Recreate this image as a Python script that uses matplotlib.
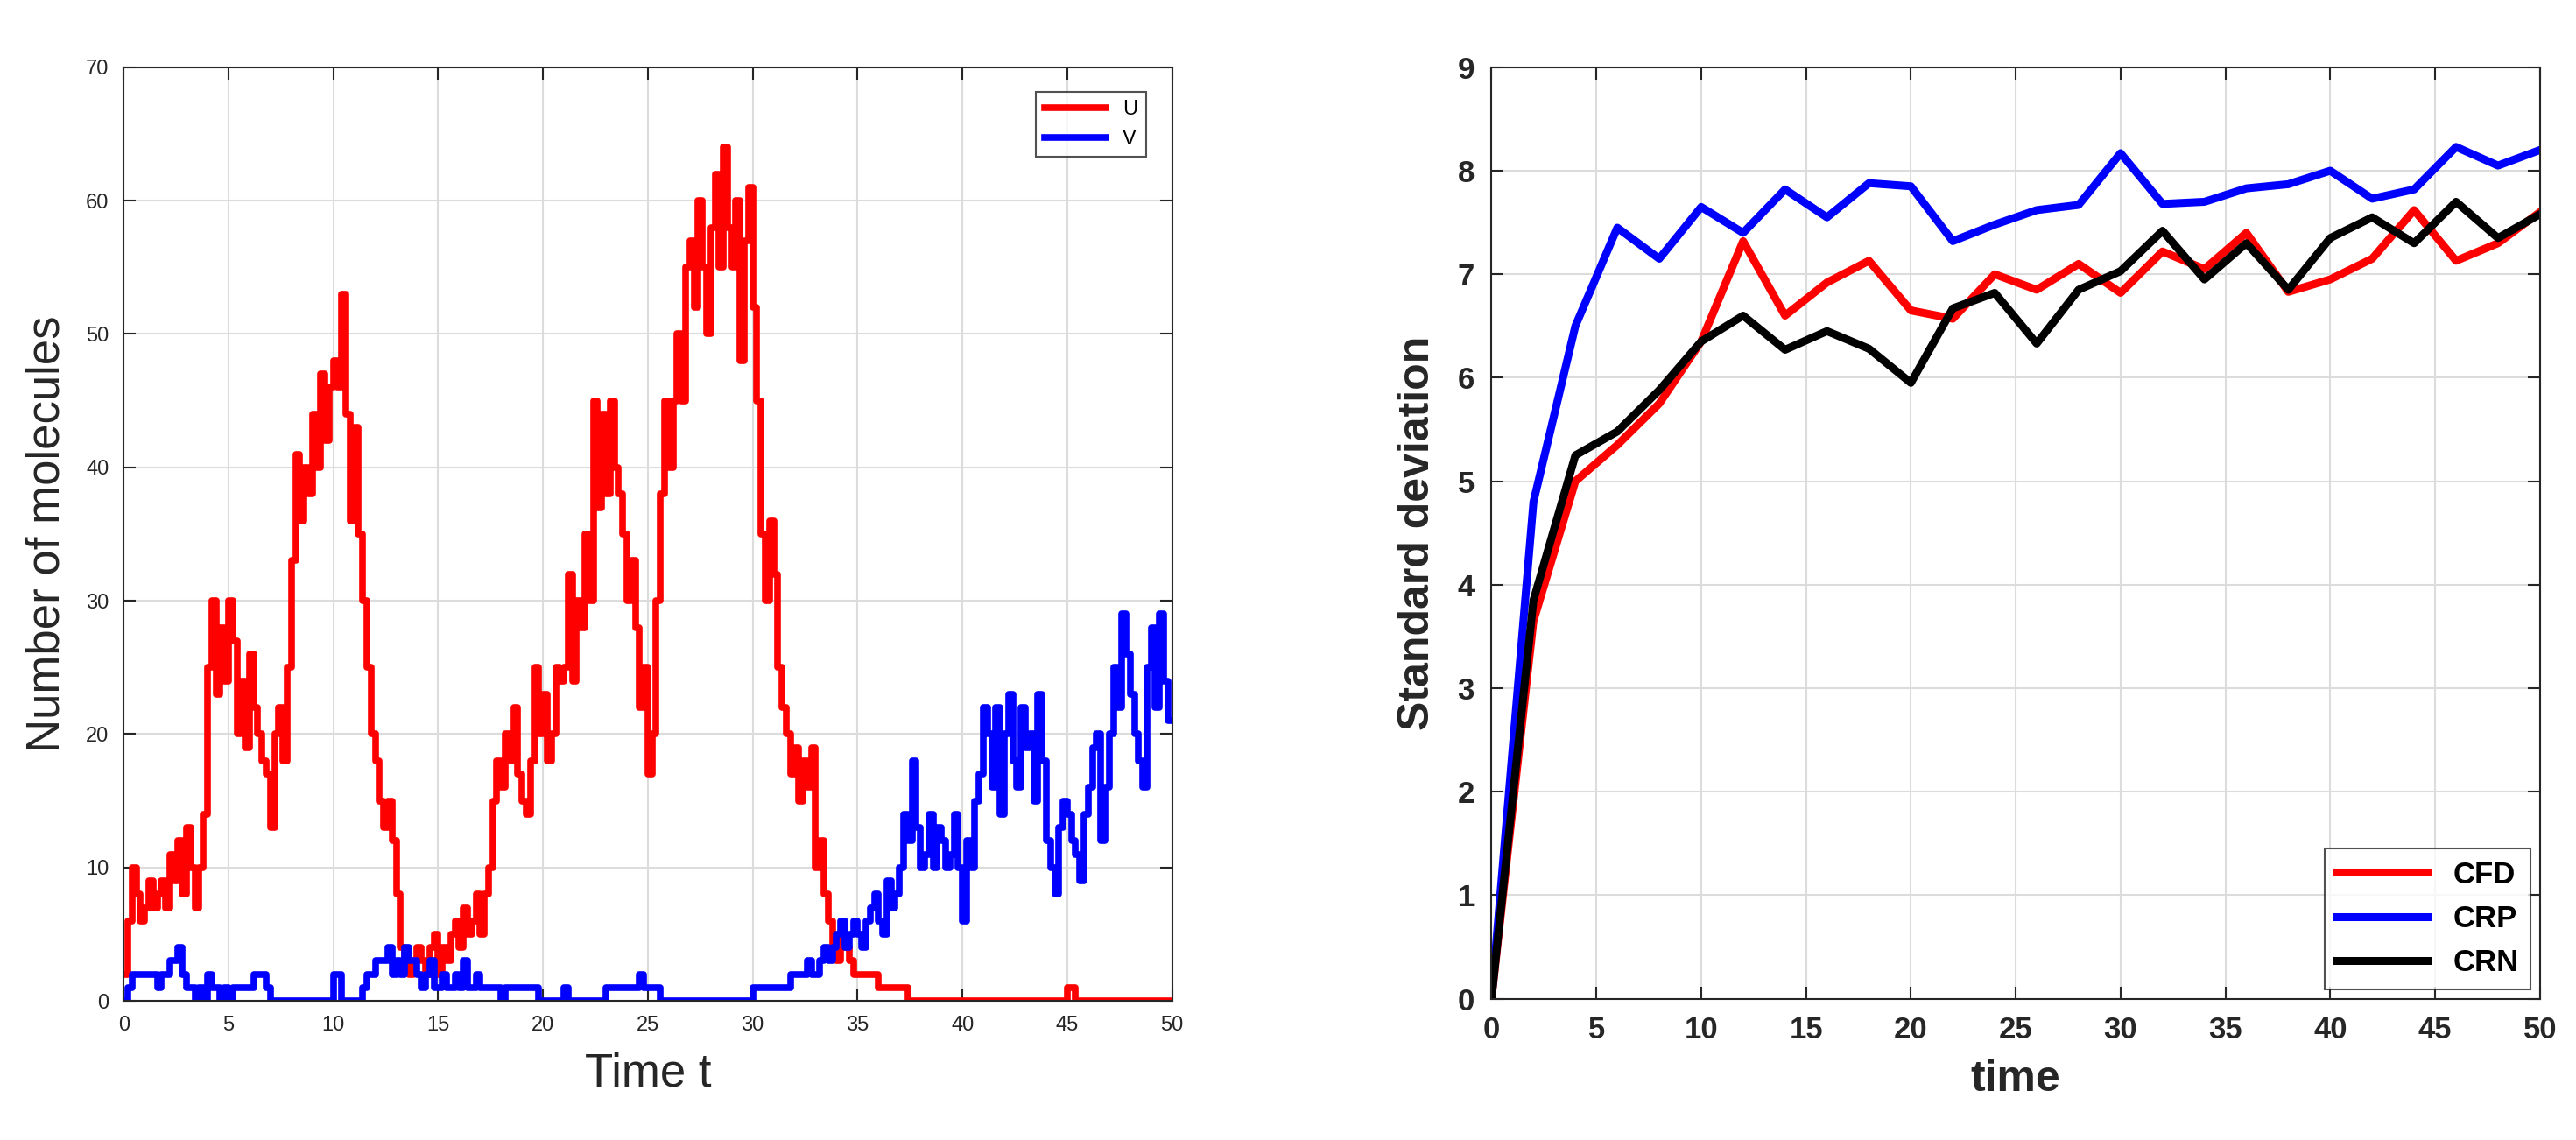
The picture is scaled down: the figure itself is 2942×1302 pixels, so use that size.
import numpy as np
import matplotlib
matplotlib.use('Agg')
import matplotlib.pyplot as plt

plt.rcParams['font.family'] = ['Liberation Sans', 'DejaVu Sans']

# left panel: one stochastic trajectory, sampled every 0.2 time units
u_vals = [
    2, 6, 10, 8, 6,   7, 9, 7, 8, 9,   7, 11, 9, 12, 8,   13, 10, 7, 10, 14,
    25, 30, 23, 28, 24,   30, 27, 20, 24, 19,   26, 22, 20, 18, 17,   13, 20, 22, 18, 25,
    33, 41, 36, 40, 38,   44, 40, 47, 42, 46,   48, 46, 53, 44, 36,   43, 35, 30, 25, 20,
    18, 15, 13, 15, 12,   8, 4, 3, 2, 3,   4, 3, 2, 4, 5,   2, 4, 3, 5, 6,
    4, 7, 5, 6, 8,   5, 8, 10, 15, 18,   16, 20, 18, 22, 17,   15, 14, 18, 25, 20,
    23, 18, 20, 25, 24,   25, 32, 24, 30, 28,   35, 30, 45, 37, 44,   38, 45, 40, 38, 35,
    30, 33, 28, 22, 25,   17, 20, 30, 38, 45,   40, 45, 50, 45, 55,   57, 52, 60, 55, 50,
    58, 62, 55, 64, 58,   55, 60, 48, 57, 61,   52, 45, 35, 30, 36,   32, 25, 22, 20, 17,
    19, 15, 18, 16, 19,   10, 12, 8, 6, 4,   3, 5, 4, 3, 2,   2, 2, 2, 2, 2,
    1, 1, 1, 1, 1,   1, 1, 0, 0, 0,
    0, 0, 0, 0, 0,   0, 0, 0, 0, 0,   0, 0, 0, 0, 0,   0, 0, 0, 0, 0,
    0, 0, 0, 0, 0,   0, 0, 0, 0, 0,   0, 0, 0, 0, 0,
    1, 1, 0, 0, 0,   0, 0, 0, 0, 0,   0, 0, 0, 0, 0,   0, 0, 0, 0, 0,   0, 0, 0, 0, 0,
    0,
]
v_vals = [
    0, 1, 2, 2, 2,   2, 2, 2, 1, 2,   2, 3, 3, 4, 2,   1, 1, 0, 1, 0,
    2, 1, 1, 0, 1,   0, 1, 1, 1, 1,   1, 2, 2, 2, 1,   0, 0, 0, 0, 0,
    0, 0, 0, 0, 0,   0, 0, 0, 0, 0,   2, 2, 0, 0, 0,   0, 0, 1, 2, 2,
    3, 3, 3, 4, 2,   3, 2, 4, 3, 3,   2, 1, 2, 3, 1,   1, 2, 1, 1, 2,
    1, 3, 1, 1, 2,   1, 1, 1, 1, 1,   0, 1, 1, 1, 1,   1, 1, 1, 1, 0,
    0, 0, 0, 0, 0,   1, 0, 0, 0, 0,   0, 0, 0, 0, 0,   1, 1, 1, 1, 1,
    1, 1, 1, 2, 1,   1, 1, 1, 0, 0,   0, 0, 0, 0, 0,   0, 0, 0, 0, 0,
    0, 0, 0, 0, 0,   0, 0, 0, 0, 0,   1, 1, 1, 1, 1,   1, 1, 1, 1, 2,
    2, 2, 2, 3, 2,   2, 3, 4, 3, 4,   5, 6, 4, 5, 6,   5, 4, 6, 7, 8,
    6, 5, 9, 7, 8,   10, 14, 12, 18, 13,   10, 11, 14, 10, 13,   12, 10, 11, 14, 10,
    6, 12, 10, 15, 17,   22, 20, 16, 22, 14,   20, 23, 18, 16, 22,   19, 20, 15, 23, 18,
    12, 10, 8, 13, 15,   14, 12, 11, 9, 14,   16, 19, 20, 12, 16,   20, 25, 22, 29, 26,
    23, 20, 18, 16, 25,   28, 22, 29, 24, 21,
    21,
]
t_left = np.arange(len(u_vals)) * 0.2
t_left_v = np.arange(len(v_vals)) * 0.2

# right panel: standard deviation over time
t_right = [0, 2, 4, 6, 8, 10, 12, 14, 16, 18, 20, 22, 24, 26, 28, 30, 32, 34, 36, 38, 40, 42, 44, 46, 48, 50]
cfd = [0, 3.65, 5.0, 5.35, 5.75, 6.35, 7.32, 6.6, 6.92, 7.13, 6.65, 6.57, 7.0, 6.85, 7.1, 6.82,
       7.22, 7.05, 7.4, 6.83, 6.95, 7.15, 7.62, 7.13, 7.3, 7.6]
crp = [0, 4.8, 6.5, 7.45, 7.15, 7.65, 7.4, 7.82, 7.55, 7.88, 7.85, 7.32, 7.48, 7.62, 7.67, 8.17,
       7.68, 7.7, 7.83, 7.87, 8.0, 7.73, 7.82, 8.23, 8.05, 8.2]
crn = [0, 3.85, 5.25, 5.48, 5.88, 6.35, 6.6, 6.27, 6.45, 6.28, 5.95, 6.67, 6.82, 6.33, 6.85, 7.03,
       7.42, 6.95, 7.3, 6.85, 7.35, 7.55, 7.3, 7.7, 7.35, 7.58]

fig = plt.figure(figsize=(29.42, 13.02), dpi=100)
ax1 = fig.add_axes([0.048, 0.122, 0.407, 0.819])
ax2 = fig.add_axes([0.579, 0.124, 0.407, 0.817])

ax1.plot(t_left, u_vals, color='red', lw=5.5, drawstyle='steps-post', label='U')
ax1.plot(t_left_v, v_vals, color='blue', lw=5.5, drawstyle='steps-post', label='V')
ax1.set_xlim(0, 50)
ax1.set_ylim(0, 70)
ax1.set_xticks(range(0, 51, 5))
ax1.set_yticks(range(0, 71, 10))
ax1.tick_params(labelsize=17, colors='#262626', direction='in', length=10, width=1.5,
                top=True, right=True, pad=12)
ax1.set_xlabel('Time t', fontsize=38, color='#262626', labelpad=14)
ax1.set_ylabel('Number of molecules', fontsize=38, color='#262626', labelpad=14)
ax1.grid(True, color='#dcdcdc', lw=1.5)
ax1.set_axisbelow(True)
for sp in ax1.spines.values():
    sp.set_linewidth(1.5)
    sp.set_color('#262626')
leg = ax1.legend(loc='upper right', fontsize=17, fancybox=False, edgecolor='#262626',
                 handlelength=3, bbox_to_anchor=(0.985, 0.985))
leg.get_frame().set_linewidth(1.5)

ax2.plot(t_right, cfd, color='red', lw=6.5, label='CFD')
ax2.plot(t_right, crp, color='blue', lw=6.5, label='CRP')
ax2.plot(t_right, crn, color='black', lw=6.5, label='CRN')
ax2.set_xlim(0, 50)
ax2.set_ylim(0, 9)
ax2.set_xticks(range(0, 51, 5))
ax2.set_yticks(range(0, 10))
ax2.tick_params(labelsize=25, colors='#262626', direction='in', length=10, width=1.5,
                top=True, right=True, pad=14)
for lab in ax2.get_xticklabels() + ax2.get_yticklabels():
    lab.set_fontweight('bold')
ax2.set_xlabel('time', fontsize=36, fontweight='bold', color='#262626', labelpad=12)
ax2.set_ylabel('Standard deviation', fontsize=36, fontweight='bold', color='#262626', labelpad=16)
ax2.grid(True, color='#dcdcdc', lw=1.5)
ax2.set_axisbelow(True)
for sp in ax2.spines.values():
    sp.set_linewidth(1.5)
    sp.set_color('#262626')
leg2 = ax2.legend(loc='lower right', prop={'size': 25, 'weight': 'bold'}, fancybox=False,
                  edgecolor='#262626', handlelength=3, borderaxespad=0.3)
leg2.get_frame().set_linewidth(1.5)

fig.savefig('out.png', dpi=100)
